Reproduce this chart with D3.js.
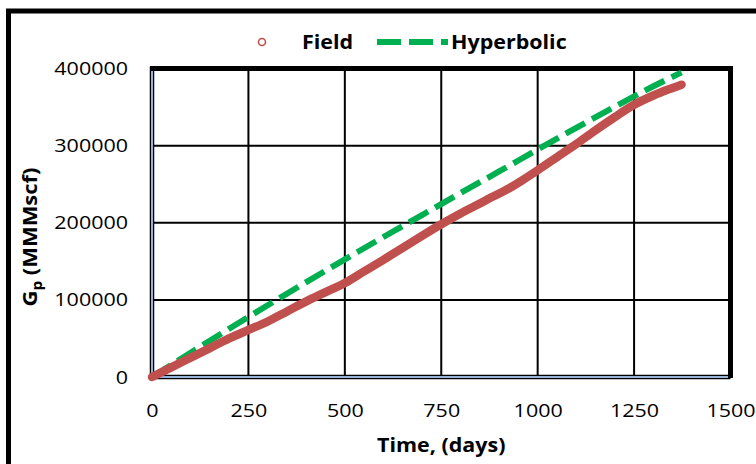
<!DOCTYPE html>
<html>
<head>
<meta charset="utf-8">
<script src="https://cdn.jsdelivr.net/npm/d3@7"></script>
<style>
  html, body { margin: 0; padding: 0; background: #fff; }
  svg { display: block; }
  text { font-family: "Open Sans", "Liberation Sans", sans-serif; fill: #000; }
</style>
</head>
<body>
<svg id="chart" width="756" height="464"></svg>
<script>
// Cumulative gas production: field history vs. hyperbolic decline fit
const fieldDays = [0, 50, 100, 150, 200, 250, 300, 350, 400, 450, 500, 550, 600, 650, 700, 750,
                   800, 850, 880, 920, 960, 1000, 1050, 1100, 1150, 1200, 1250, 1300, 1340, 1373];
const fieldGp   = [0, 12500, 25000, 37500, 50000, 61000, 72000, 85000, 98000, 110000, 122000, 137000,
                   152000, 167500, 183000, 198000, 212000, 225000, 233000, 243000, 255000, 268000,
                   285000, 302000, 320000, 337000, 353000, 365000, 373000, 379000];

const hypDays = [0, 100, 200, 300, 400, 500, 600, 700, 800, 900, 1000, 1100, 1200, 1300, 1373];
const hypGp   = [0, 31500, 62500, 93000, 123000, 152500, 181500, 210000, 238500, 266500, 295000,
                 323000, 350500, 377000, 395000];

const xTicks = [0, 250, 500, 750, 1000, 1250, 1500];
const yTicks = [0, 100000, 200000, 300000, 400000];

const seriesNames = ["Field", "Hyperbolic"];
const fieldColor = "#C0504D";
const hypColor = "#00B050";
const axisBlue = "#95B3D7";
const STRETCH = 1.13;

const svg = d3.select("#chart");

// widen glyphs a little so the labels keep their proportions
function stretch(sel, k) {
  sel.each(function () {
    const w = this.getComputedTextLength();
    d3.select(this).attr("textLength", w * k).attr("lengthAdjust", "spacingAndGlyphs");
  });
}

const plot = { left: 152, right: 730.5, top: 68.5, bottom: 377 };

const x = d3.scaleLinear().domain([0, 1500]).range([plot.left, plot.right]);
const y = d3.scaleLinear().domain([0, 400000]).range([plot.bottom, plot.top]);

// outer frame
svg.append("rect")
  .attr("x", 8.5).attr("y", 11)
  .attr("width", 900).attr("height", 600)
  .attr("fill", "none").attr("stroke", "#000").attr("stroke-width", 5);

// gridlines
svg.append("g").selectAll("line")
  .data(xTicks.filter(d => d > 0 && d < 1500))
  .join("line")
  .attr("x1", d => x(d)).attr("x2", d => x(d))
  .attr("y1", plot.top).attr("y2", plot.bottom)
  .attr("stroke", "#000").attr("stroke-width", 2);

svg.append("g").selectAll("line")
  .data(yTicks.filter(d => d > 0 && d < 400000))
  .join("line")
  .attr("x1", plot.left).attr("x2", plot.right)
  .attr("y1", d => y(d)).attr("y2", d => y(d))
  .attr("stroke", "#000").attr("stroke-width", 2);

// left and bottom axis lines (black outline with light blue core)
const axisLines = [
  { x1: plot.left, y1: plot.top - 2, x2: plot.left, y2: plot.bottom + 2 },
  { x1: plot.left - 2, y1: plot.bottom, x2: plot.right, y2: plot.bottom }
];
svg.append("g").selectAll("line").data(axisLines).join("line")
  .attr("x1", d => d.x1).attr("y1", d => d.y1).attr("x2", d => d.x2).attr("y2", d => d.y2)
  .attr("stroke", "#000").attr("stroke-width", 4.5);
svg.append("g").selectAll("line").data(axisLines).join("line")
  .attr("x1", d => d.x1).attr("y1", d => d.y1).attr("x2", d => d.x2).attr("y2", d => d.y2)
  .attr("stroke", axisBlue).attr("stroke-width", 2);

// top and right borders
svg.append("path")
  .attr("d", `M${plot.left - 2},${plot.top} H${plot.right} V${plot.bottom + 1}`)
  .attr("fill", "none").attr("stroke", "#000").attr("stroke-width", 5)
  .attr("stroke-linejoin", "miter");

// tick labels
const yAxis = svg.append("g")
  .attr("transform", `translate(${plot.left},0)`)
  .call(d3.axisLeft(y).tickValues(yTicks).tickSize(0).tickPadding(24).tickFormat(d3.format("d")));
yAxis.select(".domain").remove();
yAxis.selectAll("text").attr("font-size", 19).attr("font-family", null).call(stretch, STRETCH);

const xAxis = svg.append("g")
  .attr("transform", `translate(0,${plot.bottom})`)
  .call(d3.axisBottom(x).tickValues(xTicks).tickSize(0).tickPadding(27).tickFormat(d3.format("d")));
xAxis.select(".domain").remove();
xAxis.selectAll("text").attr("font-size", 19).attr("font-family", null).call(stretch, STRETCH);

// series
const line = d3.line().x(d => x(d[0])).y(d => y(d[1])).curve(d3.curveMonotoneX);

svg.append("path")
  .datum(d3.zip(hypDays, hypGp))
  .attr("d", line)
  .attr("fill", "none").attr("stroke", hypColor).attr("stroke-width", 6)
  .attr("stroke-dasharray", "22,8");

svg.append("path")
  .datum(d3.zip(fieldDays, fieldGp))
  .attr("d", line)
  .attr("fill", "none").attr("stroke", fieldColor).attr("stroke-width", 8.5)
  .attr("stroke-linecap", "round").attr("stroke-linejoin", "round");

// axis titles
svg.append("text")
  .attr("x", (plot.left + plot.right) / 2).attr("y", 452)
  .attr("text-anchor", "middle").attr("font-size", 19).attr("font-weight", "bold")
  .text("Time, (days)")
  .call(stretch, STRETCH);

const yTitle = svg.append("text")
  .attr("transform", "translate(37,237) rotate(-90)")
  .attr("text-anchor", "middle").attr("font-size", 20).attr("font-weight", "bold")
  .attr("textLength", 139).attr("lengthAdjust", "spacingAndGlyphs");
yTitle.append("tspan").text("G");
yTitle.append("tspan").attr("font-size", 14).attr("dy", 5).text("p");
yTitle.append("tspan").attr("dy", -5).text(" (MMMscf)");

// legend
const legend = svg.append("g");
legend.append("circle")
  .attr("cx", 262).attr("cy", 42).attr("r", 3.5)
  .attr("fill", "#fff").attr("stroke", fieldColor).attr("stroke-width", 1.6);
legend.append("text")
  .attr("x", 302).attr("y", 48.5)
  .attr("font-size", 19).attr("font-weight", "bold")
  .text(seriesNames[0]).call(stretch, STRETCH);
legend.append("line")
  .attr("x1", 377).attr("x2", 448).attr("y1", 42).attr("y2", 42)
  .attr("stroke", hypColor).attr("stroke-width", 6).attr("stroke-dasharray", "24,8");
legend.append("text")
  .attr("x", 451).attr("y", 48.5)
  .attr("font-size", 19).attr("font-weight", "bold")
  .text(seriesNames[1]).call(stretch, STRETCH);
</script>
</body>
</html>
